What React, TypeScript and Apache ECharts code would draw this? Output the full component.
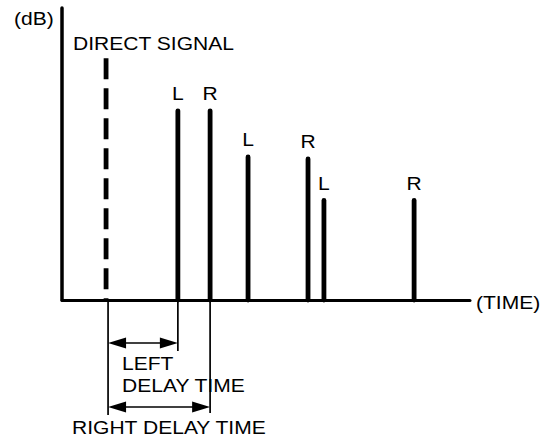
import React, { useEffect, useRef } from "react";
import * as echarts from "echarts";

// Reflections (time, level)
const channels = ["L", "R", "L", "R", "L", "R"];
const times = [28.4, 36.3, 45.6, 60.3, 64.2, 86.3];
const levels = [64.8, 64.8, 49.0, 48.3, 34.1, 34.1];
const directTime = [10.8];
const directLevel = [82.8];

const FONT = '"Liberation Sans", Arial, Helvetica, sans-serif';
const FS = 18;
const SX = 1.17;

const txt = (text: string, x: number, y: number, align = "left") => ({
  type: "text",
  x,
  y,
  scaleX: SX,
  style: {
    text,
    fontSize: FS,
    fontFamily: FONT,
    fill: "#000",
    align,
    verticalAlign: "middle",
    textAlign: align,
    textVerticalAlign: "middle",
  },
});

export default function App() {
  const ref = useRef<HTMLDivElement>(null);
  useEffect(() => {
    document.body.style.margin = "0";
    const chart = echarts.init(ref.current!, null, { renderer: "svg" });
    const reflections = times.map((t, i) => [t, levels[i]]);
    chart.setOption({
      animation: false,
      backgroundColor: "#fff",
      grid: { left: 62, right: 78, top: 8, bottom: 141 },
      xAxis: {
        type: "value",
        min: 0,
        max: 100,
        axisLine: { show: true, lineStyle: { color: "#000", width: 3 } },
        axisTick: { show: false },
        axisLabel: { show: false },
        splitLine: { show: false },
      },
      yAxis: {
        type: "value",
        min: 0,
        max: 100,
        axisLine: { show: true, lineStyle: { color: "#000", width: 3.5 } },
        axisTick: { show: false },
        axisLabel: { show: false },
        splitLine: { show: false },
      },
      series: [
        {
          type: "custom",
          name: "direct",
          data: directTime.map((t, i) => [t, directLevel[i]]),
          renderItem: (params: any, api: any) => {
            const x = api.value(0);
            const y = api.value(1);
            const p0 = api.coord([x, 0]);
            const p1 = api.coord([x, y]);
            return {
              type: "line",
              shape: { x1: p1[0], y1: p1[1], x2: p0[0], y2: p0[1] },
              style: { stroke: "#000", lineWidth: 4.8, lineDash: [21, 9] },
            };
          },
        },
        {
          type: "custom",
          name: "reflections",
          data: reflections,
          renderItem: (params: any, api: any) => {
            const x = api.value(0);
            const y = api.value(1);
            const p0 = api.coord([x, 0]);
            const p1 = api.coord([x, y]);
            return {
              type: "group",
              children: [
                {
                  type: "line",
                  shape: { x1: p0[0], y1: p0[1], x2: p1[0], y2: p1[1] },
                  style: { stroke: "#000", lineWidth: 4.8, lineCap: "round" },
                },
                txt(channels[params.dataIndex], p1[0], p1[1] - 17, "center"),
              ],
            };
          },
        },
      ],
    });

    const px = (t: number) => chart.convertToPixel({ gridIndex: 0 }, [t, 0]) as number[];
    const d = px(directTime[0]);
    const l = px(times[0]);
    const r = px(times[1]);
    const axisY = d[1];
    const thin = { stroke: "#000", lineWidth: 1.7 };
    const vline = (x: number, y2: number) => ({
      type: "line",
      shape: { x1: x, y1: axisY + 1, x2: x, y2 },
      style: thin,
    });
    const arrow = (x1: number, x2: number, y: number) => [
      { type: "line", shape: { x1: x1 + 4, y1: y, x2: x2 - 4, y2: y }, style: thin },
      {
        type: "polygon",
        shape: { points: [[x1, y], [x1 + 18, y - 5.5], [x1 + 18, y + 5.5]] },
        style: { fill: "#000" },
      },
      {
        type: "polygon",
        shape: { points: [[x2, y], [x2 - 18, y - 5.5], [x2 - 18, y + 5.5]] },
        style: { fill: "#000" },
      },
    ];
    const dx = d[0] + 2;
    chart.setOption({
      graphic: [
        txt("(dB)", 14, 19),
        txt("DIRECT SIGNAL", 73, 44),
        txt("(TIME)", 476, 303),
        vline(dx, 415),
        vline(l[0], 351),
        vline(r[0], 413),
        ...arrow(dx, l[0], 343),
        ...arrow(dx, r[0], 407),
        txt("LEFT", 122, 364),
        txt("DELAY TIME", 122, 386),
        txt("RIGHT DELAY TIME", 72, 428),
      ],
    });
    return () => chart.dispose();
  }, []);
  return (
    <div
      ref={ref}
      style={{ position: "fixed", left: 0, top: 0, width: 548, height: 441 }}
    />
  );
}
